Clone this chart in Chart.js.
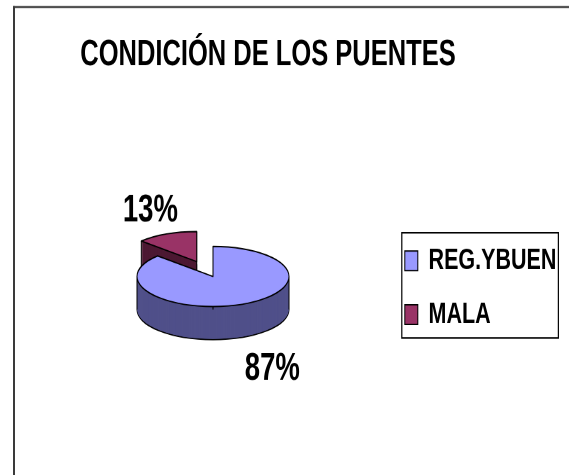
<!DOCTYPE html>
<html>
<head>
<meta charset="utf-8">
<script src="https://cdn.jsdelivr.net/npm/chart.js@4"></script>
<style>
  html, body { margin: 0; padding: 0; background: #fff; width: 569px; height: 475px; overflow: hidden; }
  #outer { width: 569px; height: 475px; position: relative; overflow: visible; }
  #wrap { position: absolute; left: 0; top: 0; width: 569px; height: 339px; transform: scaleY(1.4012); transform-origin: 0 0; }
  canvas { display: block; }
</style>
</head>
<body>
<div id="outer"><div id="wrap"><canvas id="c" width="569" height="339"></canvas></div></div>
<script>
const chartTitle = 'CONDICIÓN DE LOS PUENTES';
const categories = ['REG.YBUEN', 'MALA'];
const values = [87, 13];
const topColors = ['#9999FF', '#993366'];
const sideColors = ['#50508A', '#4D1933'];
const explode = [0, 164];

const TILT = 0.282;     // vertical squash of the pie disc
const DEPTH = 23.6;     // thickness of the pie
const LABEL_R = 1.75;   // label distance, in radii
const FONT = '"Liberation Sans", Arial, sans-serif';

function midAngle(p) { return (p.startAngle + p.endAngle) / 2; }
function inRange(t, s, e) {
  for (let n = -2; n <= 2; n++) { const tt = t + n * 2 * Math.PI; if (tt >= s && tt <= e) return true; }
  return false;
}
function geom(a) {
  const p = a.getProps(['x', 'y', 'startAngle', 'endAngle', 'outerRadius']);
  const off = (a.options.offset || 0) / 4;
  const m = midAngle(p);
  return {
    s: p.startAngle, e: p.endAngle, m, off,
    cx: p.x + Math.cos(m) * off,
    cy: p.y + Math.sin(m) * off * TILT,
    x0: p.x, y0: p.y,
    rx: p.outerRadius, ry: p.outerRadius * TILT
  };
}

const framePlugin = {
  id: 'frame',
  afterLayout(chart) {
    const lg = chart.legend;
    if (lg) { lg.right = chart.width; lg.width = lg.right - lg.left; }
  },
  beforeDraw(chart) {
    const ctx = chart.ctx;
    ctx.save();
    ctx.fillStyle = '#3a3a3a';
    ctx.fillRect(13, 4.3, chart.width - 13, 1.4);
    ctx.fillRect(13, 4.3, 2, chart.height);
    ctx.restore();
  },
  afterDraw(chart) {
    const lg = chart.legend;
    if (!lg || !lg.legendHitBoxes || !lg.legendHitBoxes.length) return;
    const hb = lg.legendHitBoxes;
    const first = hb[0], last = hb[hb.length - 1];
    let right = 0;
    hb.forEach(h => { right = Math.max(right, h.left + h.width); });
    const ctx = chart.ctx;
    ctx.save();
    ctx.strokeStyle = '#000';
    ctx.lineWidth = 1.2;
    ctx.strokeRect(first.left - 3, first.top - 9.3, right + 2 - (first.left - 3), last.top + last.height + 6 - (first.top - 9.3));
    ctx.restore();
  }
};

const pie3dPlugin = {
  id: 'pie3d',
  beforeDatasetsDraw(chart) {
    const ctx = chart.ctx;
    const meta = chart.getDatasetMeta(0);
    const arcs = meta.data;
    const order = arcs.map((a, i) => i).sort((i, j) => Math.sin(midAngle(arcs[i])) - Math.sin(midAngle(arcs[j])));
    order.forEach(i => {
      const g = geom(arcs[i]);
      const sector = (dy) => {
        ctx.beginPath();
        ctx.moveTo(g.cx, g.cy + dy);
        ctx.ellipse(g.cx, g.cy + dy, g.rx, g.ry, 0, g.s, g.e);
        ctx.closePath();
      };
      ctx.save();
      ctx.lineJoin = 'round';
      ctx.strokeStyle = '#000';
      ctx.lineWidth = 1;
      ctx.fillStyle = sideColors[i];
      sector(DEPTH); ctx.fill(); ctx.stroke();
      for (let d = DEPTH - 0.5; d > 0; d -= 0.5) { sector(d); ctx.fill(); }
      const pts = [[g.cx, g.cy]];
      [g.s, g.e].forEach(t => pts.push([g.cx + g.rx * Math.cos(t), g.cy + g.ry * Math.sin(t)]));
      [0, Math.PI].forEach(t => { if (inRange(t, g.s, g.e)) pts.push([g.cx + g.rx * Math.cos(t), g.cy]); });
      ctx.beginPath();
      pts.forEach(([x, y]) => { ctx.moveTo(x, y); ctx.lineTo(x, y + DEPTH); });
      ctx.stroke();
      ctx.fillStyle = topColors[i];
      sector(0); ctx.fill(); ctx.stroke();
      ctx.restore();
    });
    return false;
  },
  afterDraw(chart) {
    const ctx = chart.ctx;
    const meta = chart.getDatasetMeta(0);
    const total = values.reduce((a, b) => a + b, 0);
    ctx.save();
    ctx.fillStyle = '#000';
    ctx.font = 'bold 27.5px ' + FONT;
    ctx.textAlign = 'center';
    ctx.textBaseline = 'middle';
    meta.data.forEach((a, i) => {
      const g = geom(a);
      const d = g.off + g.rx * LABEL_R;
      const x = g.x0 + Math.cos(g.m) * d + 6.5;
      let y = g.y0 + Math.sin(g.m) * d * TILT;
      y += Math.sin(g.m) > 0 ? DEPTH + 8 : -2;
      ctx.fillText(Math.round(values[i] / total * 100) + '%', x, y);
    });
    ctx.restore();
  }
};

new Chart(document.getElementById('c'), {
  type: 'pie',
  data: {
    labels: categories,
    datasets: [{
      data: values,
      backgroundColor: topColors,
      borderColor: '#000',
      borderWidth: 1,
      offset: explode,
      radius: 76
    }]
  },
  options: {
    responsive: false,
    devicePixelRatio: 2,
    animation: false,
    radius: 76,
    layout: { padding: { top: 10, bottom: 5, left: 38, right: 71 } },
    plugins: {
      tooltip: { enabled: false },
      title: {
        display: true,
        text: chartTitle,
        color: '#000',
        font: { family: FONT, size: 25.5, weight: 'bold' },
        padding: { top: 14, bottom: 6 }
      },
      legend: {
        position: 'right',
        fullSize: false,
        maxWidth: 110,
        align: 'center',
        title: { display: true, text: '', font: { size: 13.33 }, padding: 0 },
        labels: {
          boxWidth: 13,
          boxHeight: 14,
          padding: 16.8,
          color: '#000',
          font: { family: FONT, size: 21.5, weight: 'bold' }
        }
      }
    }
  },
  plugins: [framePlugin, pie3dPlugin]
});
</script>
</body>
</html>
